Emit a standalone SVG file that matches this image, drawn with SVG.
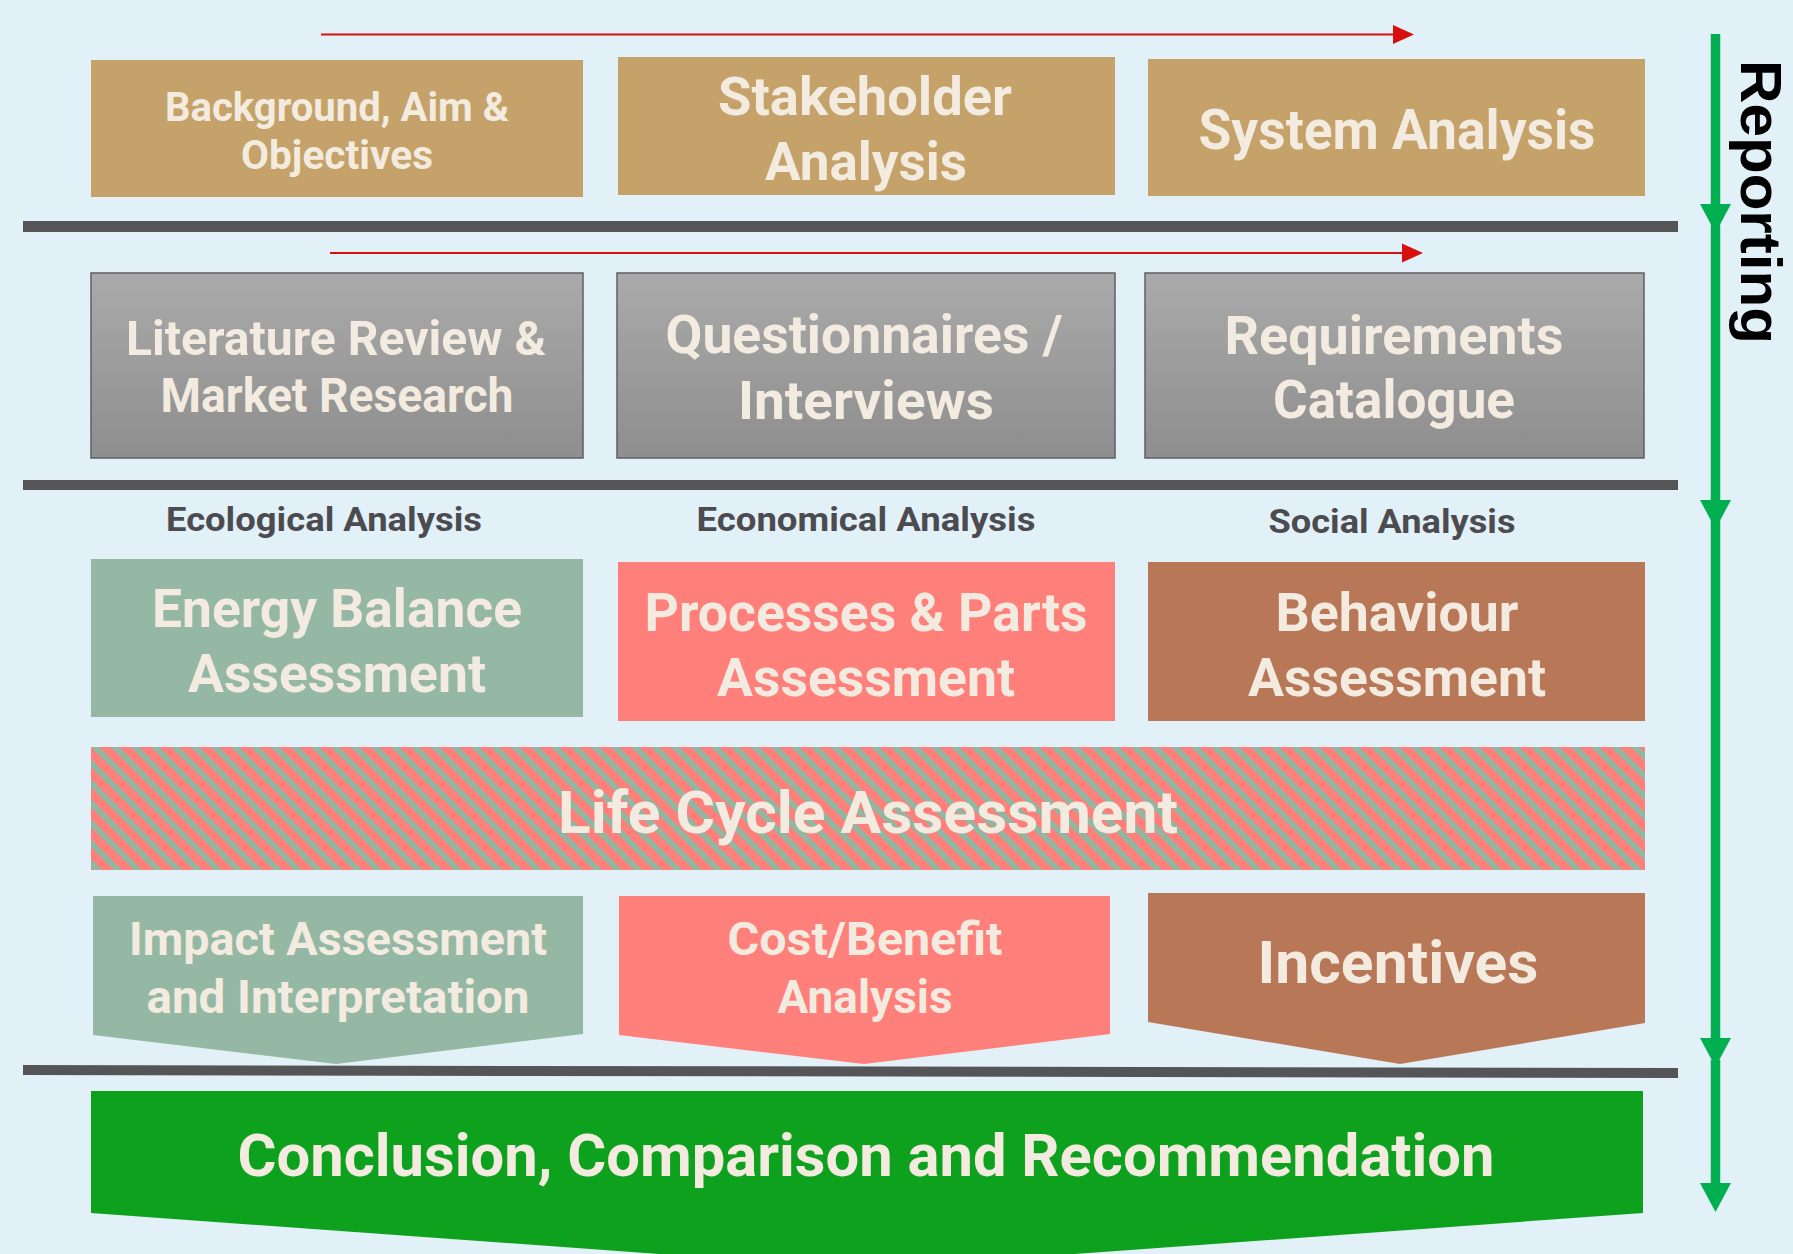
<svg xmlns="http://www.w3.org/2000/svg" width="1793" height="1254" viewBox="0 0 1793 1254">
  <defs>
    <style>
      .lbl { font-family: Roboto, "Liberation Sans", sans-serif; font-weight: 700; fill: #f3ebdf; text-anchor: middle; }
      .sub { font-family: Roboto, "Liberation Sans", sans-serif; font-weight: 700; fill: #4b4b50; text-anchor: middle; font-size: 34px; }
      .tan { fill: #c4a26a; }
      .gray { fill: url(#grayGrad); stroke: #5e5f64; stroke-width: 1.5; }
      .sage { fill: #95b8a5; }
      .salmon { fill: #ff7f7b; }
      .brown { fill: #b87857; }
      .divider { fill: #555558; }
      .flow { stroke: #d80f0f; stroke-width: 2; fill: none; }
      .report { stroke: #00b050; stroke-width: 9.5; fill: none; }
    </style>
    <linearGradient id="grayGrad" x1="0" y1="0" x2="0" y2="1">
      <stop offset="0" stop-color="#aaaaaa"/>
      <stop offset="1" stop-color="#8e8e8e"/>
    </linearGradient>
    <pattern id="lcaStripes" patternUnits="userSpaceOnUse" x="91" y="747" width="20" height="20">
      <rect width="20" height="20" fill="#ff7f7b"/>
      <polygon points="0,0 8,0 20,12 20,20" fill="#8fb8a2"/>
      <polygon points="0,12 8,20 0,20" fill="#8fb8a2"/>
    </pattern>
    <marker id="redHead" viewBox="0 -10 21 20" refX="0" refY="0" markerUnits="userSpaceOnUse" markerWidth="21" markerHeight="20" orient="auto">
      <path d="M0,-9.5 L21,0 L0,9.5 Z" fill="#d80f0f"/>
    </marker>
    <marker id="greenHead" viewBox="0 -16 30 32" refX="0" refY="0" markerUnits="userSpaceOnUse" markerWidth="30" markerHeight="32" orient="auto">
      <path d="M0,-15.5 L29,0 L0,15.5 Z" fill="#00b050"/>
    </marker>
  </defs>

  <rect width="1793" height="1254" fill="#e2f1f8"/>

  <!-- phase separators -->
  <rect class="divider" x="23" y="221" width="1655" height="11"/>
  <rect class="divider" x="23" y="480" width="1655" height="10"/>
  <polygon class="divider" points="23,1065 1678,1068 1678,1078 23,1075"/>

  <!-- connectors -->
  <g id="connectors">
    <line class="flow" x1="321" y1="34.5" x2="1393" y2="34.5" marker-end="url(#redHead)"/>
    <line class="flow" x1="330" y1="253" x2="1402" y2="253" marker-end="url(#redHead)"/>
    <line class="report" x1="1715.5" y1="34" x2="1715.5" y2="204" marker-end="url(#greenHead)"/>
    <line class="report" x1="1715.5" y1="225" x2="1715.5" y2="500" marker-end="url(#greenHead)"/>
    <line class="report" x1="1715.5" y1="520" x2="1715.5" y2="1038" marker-end="url(#greenHead)"/>
    <line class="report" x1="1715.5" y1="1060" x2="1715.5" y2="1183" marker-end="url(#greenHead)"/>
  </g>

  <g id="reporting-label">
    <text x="0" y="0" transform="translate(1741,60) rotate(90)" font-family="'Liberation Sans', Arial, sans-serif" font-weight="700" font-size="57" fill="#000000" textLength="284" lengthAdjust="spacingAndGlyphs">Reporting</text>
  </g>

  <!-- row 1 -->
  <g id="background">
    <rect class="tan" x="91" y="60" width="492" height="137"/>
    <text class="lbl" font-size="41" x="337" y="121" textLength="344" lengthAdjust="spacingAndGlyphs">Background, Aim &amp;</text>
    <text class="lbl" font-size="41" x="337" y="169" textLength="192" lengthAdjust="spacingAndGlyphs">Objectives</text>
  </g>
  <g id="stakeholder">
    <rect class="tan" x="618" y="57" width="497" height="138"/>
    <text class="lbl" font-size="54" x="865" y="115" textLength="294" lengthAdjust="spacingAndGlyphs">Stakeholder</text>
    <text class="lbl" font-size="54" x="866" y="180" textLength="202" lengthAdjust="spacingAndGlyphs">Analysis</text>
  </g>
  <g id="system">
    <rect class="tan" x="1148" y="59" width="497" height="137"/>
    <text class="lbl" font-size="55" x="1397" y="149" textLength="397" lengthAdjust="spacingAndGlyphs">System Analysis</text>
  </g>

  <!-- row 2 -->
  <g id="literature">
    <rect class="gray" x="91" y="273" width="492" height="185"/>
    <text class="lbl" font-size="48" x="336" y="355" textLength="420" lengthAdjust="spacingAndGlyphs">Literature Review &amp;</text>
    <text class="lbl" font-size="48" x="337" y="412" textLength="353" lengthAdjust="spacingAndGlyphs">Market Research</text>
  </g>
  <g id="questionnaires">
    <rect class="gray" x="617" y="273" width="498" height="185"/>
    <text class="lbl" font-size="54" x="864" y="353" textLength="397" lengthAdjust="spacingAndGlyphs">Questionnaires /</text>
    <text class="lbl" font-size="54" x="866" y="419" textLength="256" lengthAdjust="spacingAndGlyphs">Interviews</text>
  </g>
  <g id="requirements">
    <rect class="gray" x="1145" y="273" width="499" height="185"/>
    <text class="lbl" font-size="53" x="1394" y="354" textLength="339" lengthAdjust="spacingAndGlyphs">Requirements</text>
    <text class="lbl" font-size="53" x="1394" y="418" textLength="242" lengthAdjust="spacingAndGlyphs">Catalogue</text>
  </g>

  <!-- column headings -->
  <g id="headings">
    <text class="sub" x="324" y="531" textLength="316" lengthAdjust="spacingAndGlyphs">Ecological Analysis</text>
    <text class="sub" x="866" y="531" textLength="339" lengthAdjust="spacingAndGlyphs">Economical Analysis</text>
    <text class="sub" x="1392" y="533" textLength="247" lengthAdjust="spacingAndGlyphs">Social Analysis</text>
  </g>

  <!-- row 3 -->
  <g id="energy">
    <rect class="sage" x="91" y="559" width="492" height="158"/>
    <text class="lbl" font-size="54" x="337" y="627" textLength="370" lengthAdjust="spacingAndGlyphs">Energy Balance</text>
    <text class="lbl" font-size="54" x="337" y="692" textLength="298" lengthAdjust="spacingAndGlyphs">Assessment</text>
  </g>
  <g id="processes">
    <rect class="salmon" x="618" y="562" width="497" height="159"/>
    <text class="lbl" font-size="54" x="866" y="631" textLength="443" lengthAdjust="spacingAndGlyphs">Processes &amp; Parts</text>
    <text class="lbl" font-size="54" x="866" y="696" textLength="298" lengthAdjust="spacingAndGlyphs">Assessment</text>
  </g>
  <g id="behaviour">
    <rect class="brown" x="1148" y="562" width="497" height="159"/>
    <text class="lbl" font-size="54" x="1397" y="631" textLength="243" lengthAdjust="spacingAndGlyphs">Behaviour</text>
    <text class="lbl" font-size="54" x="1397" y="696" textLength="298" lengthAdjust="spacingAndGlyphs">Assessment</text>
  </g>

  <!-- life cycle band -->
  <g id="lca">
    <rect x="91" y="747" width="1554" height="123" fill="url(#lcaStripes)"/>
    <text class="lbl" font-size="60" x="868" y="833" textLength="620" lengthAdjust="spacingAndGlyphs">Life Cycle Assessment</text>
  </g>

  <!-- row 4 -->
  <g id="impact">
    <polygon class="sage" points="93,896 583,896 583,1034 336,1064 93,1035"/>
    <text class="lbl" font-size="47" x="338" y="955" textLength="418" lengthAdjust="spacingAndGlyphs">Impact Assessment</text>
    <text class="lbl" font-size="47" x="338" y="1013" textLength="383" lengthAdjust="spacingAndGlyphs">and Interpretation</text>
  </g>
  <g id="costbenefit">
    <polygon class="salmon" points="619,896 1110,896 1110,1034 864,1064 619,1035"/>
    <text class="lbl" font-size="47" x="865" y="955" textLength="275" lengthAdjust="spacingAndGlyphs">Cost/Benefit</text>
    <text class="lbl" font-size="47" x="865" y="1013" textLength="175" lengthAdjust="spacingAndGlyphs">Analysis</text>
  </g>
  <g id="incentives">
    <polygon class="brown" points="1148,893 1645,893 1645,1023 1400,1064 1148,1022"/>
    <text class="lbl" font-size="60" x="1398" y="983" textLength="281" lengthAdjust="spacingAndGlyphs">Incentives</text>
  </g>

  <!-- final stage -->
  <g id="conclusion">
    <polygon points="91,1091 1643,1091 1643,1213 867,1269 91,1213" fill="#0ea11e"/>
    <text class="lbl" font-size="59" x="866" y="1176" textLength="1257" lengthAdjust="spacingAndGlyphs">Conclusion, Comparison and Recommendation</text>
  </g>
</svg>
